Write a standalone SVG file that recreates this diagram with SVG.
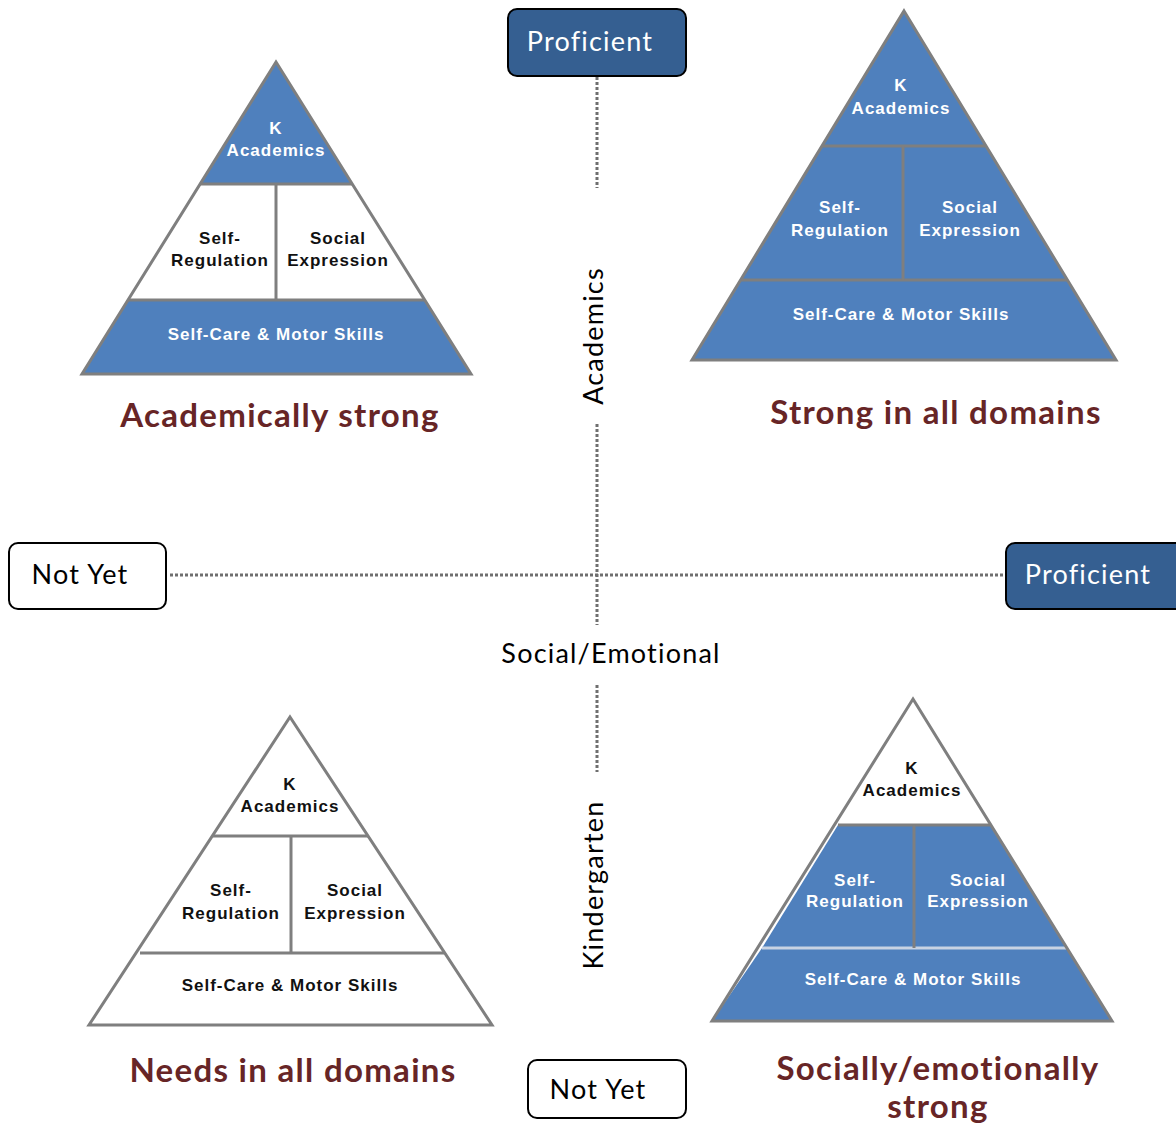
<svg xmlns="http://www.w3.org/2000/svg" width="1176" height="1124" viewBox="0 0 1176 1124">
<style>
.ax{stroke:#6f6f6f;stroke-width:3;stroke-dasharray:3 2;fill:none}
.box{stroke:#000;stroke-width:2}
.dk{fill:#355f91}
.wh{fill:#fff}
.bt{font-family:Lato,"Open Sans",sans-serif;font-size:27px;text-anchor:middle;letter-spacing:1.2px}
.bl{fill:#4f80bd}
.pw{fill:#fff}
.edge{stroke:#7f7f7f;stroke-width:3;fill:none;stroke-linejoin:miter}
.sep{stroke:#7f7f7f;stroke-width:3}
.pt{font-family:"Liberation Sans",Arial,sans-serif;font-weight:bold;font-size:17px;text-anchor:middle;letter-spacing:1px}
.tw{fill:#fff}
.tb{fill:#111}
.title{font-family:Lato,"Open Sans",sans-serif;font-weight:bold;font-size:33px;fill:#672526;text-anchor:middle;letter-spacing:1.3px}
.lab{font-family:Lato,"Open Sans",sans-serif;font-size:27px;fill:#000;text-anchor:middle;letter-spacing:1.2px}
</style>
<g id="connectors">
<line class="ax" x1="597" y1="77" x2="597" y2="188"/>
<line class="ax" x1="597" y1="424" x2="597" y2="625"/>
<line class="ax" x1="597" y1="685" x2="597" y2="772"/>
<line class="ax" x1="170" y1="575" x2="1005" y2="575"/>
</g>
<g id="axis-labels">
<text class="lab" transform="translate(603,336) rotate(-90)">Academics</text>
<text class="lab" x="611" y="663">Social/Emotional</text>
<text class="lab" transform="translate(603,885) rotate(-90)">Kindergarten</text>
</g>
<g id="proficient-top">
<rect class="box dk" x="508" y="9" width="178" height="67" rx="9"/>
<text class="bt" x="590" y="51" fill="#fff">Proficient</text>
</g>
<g id="notyet-left">
<rect class="box wh" x="9" y="543" width="157" height="66" rx="9"/>
<text class="bt" x="80" y="584" fill="#000">Not Yet</text>
</g>
<g id="proficient-right">
<rect class="box dk" x="1006" y="543" width="180" height="66" rx="9"/>
<text class="bt" x="1088" y="584" fill="#fff">Proficient</text>
</g>
<g id="notyet-bottom">
<rect class="box wh" x="528" y="1060" width="158" height="58" rx="9"/>
<text class="bt" x="598" y="1099" fill="#000">Not Yet</text>
</g>
<g id="pyramid-academically-strong">
<polygon class="bl" points="276,62 200,184 352,184"/>
<polygon class="pw" points="200,184 352,184 424,300 128,300"/>
<polygon class="bl" points="128,300 424,300 471,374 82,374"/>
<line class="sep" x1="200" y1="184" x2="352" y2="184"/>
<line class="sep" x1="128" y1="300" x2="424" y2="300"/>
<line class="sep" x1="276" y1="184" x2="276" y2="300"/>
<polygon class="edge" points="276,62 471,374 82,374"/>
<text class="pt tw" x="276" y="134">K</text>
<text class="pt tw" x="276" y="156">Academics</text>
<text class="pt tb" x="220" y="244">Self-</text>
<text class="pt tb" x="220" y="266">Regulation</text>
<text class="pt tb" x="338" y="244">Social</text>
<text class="pt tb" x="338" y="266">Expression</text>
<text class="pt tw" x="276" y="340">Self-Care &amp; Motor Skills</text>
<text class="title" x="280" y="427">Academically strong</text>
</g>
<g id="pyramid-strong-all">
<polygon class="bl" points="904,11 692,360 1116,360"/>
<line class="sep" x1="822" y1="146" x2="986" y2="146"/>
<line class="sep" x1="741" y1="280" x2="1068" y2="280"/>
<line class="sep" x1="903" y1="146" x2="903" y2="280"/>
<polygon class="edge" points="904,11 1116,360 692,360"/>
<text class="pt tw" x="901" y="91">K</text>
<text class="pt tw" x="901" y="114">Academics</text>
<text class="pt tw" x="840" y="213">Self-</text>
<text class="pt tw" x="840" y="236">Regulation</text>
<text class="pt tw" x="970" y="213">Social</text>
<text class="pt tw" x="970" y="236">Expression</text>
<text class="pt tw" x="901" y="320">Self-Care &amp; Motor Skills</text>
<text class="title" x="936" y="424">Strong in all domains</text>
</g>
<g id="pyramid-needs-all">
<polygon class="pw" points="290,717 89,1025 492,1025"/>
<line class="sep" x1="213" y1="836" x2="368" y2="836"/>
<line class="sep" x1="140" y1="953" x2="444" y2="953"/>
<line class="sep" x1="291" y1="836" x2="291" y2="953"/>
<polygon class="edge" points="290,717 492,1025 89,1025"/>
<text class="pt tb" x="290" y="790">K</text>
<text class="pt tb" x="290" y="812">Academics</text>
<text class="pt tb" x="231" y="896">Self-</text>
<text class="pt tb" x="231" y="919">Regulation</text>
<text class="pt tb" x="355" y="896">Social</text>
<text class="pt tb" x="355" y="919">Expression</text>
<text class="pt tb" x="290" y="991">Self-Care &amp; Motor Skills</text>
<text class="title" x="293" y="1082">Needs in all domains</text>
</g>
<g id="pyramid-social-strong">
<polygon class="pw" points="913,699 838,825 990,825"/>
<polygon class="bl" points="838,825 990,825 1066,948 762,948"/>
<polygon class="bl" points="762,948 1066,948 1112,1021 712,1021"/>
<line class="sep" x1="838" y1="825" x2="990" y2="825"/>
<line x1="762" y1="948" x2="1066" y2="948" stroke="#c8d3e3" stroke-width="3"/>
<line class="sep" x1="914" y1="825" x2="914" y2="948"/>
<polygon class="edge" points="913,699 1112,1021 712,1021"/>
<text class="pt tb" x="912" y="774">K</text>
<text class="pt tb" x="912" y="796">Academics</text>
<text class="pt tw" x="855" y="886">Self-</text>
<text class="pt tw" x="855" y="907">Regulation</text>
<text class="pt tw" x="978" y="886">Social</text>
<text class="pt tw" x="978" y="907">Expression</text>
<text class="pt tw" x="913" y="985">Self-Care &amp; Motor Skills</text>
<text class="title" x="938" y="1080">Socially/emotionally</text>
<text class="title" x="938" y="1118">strong</text>
</g>
</svg>
